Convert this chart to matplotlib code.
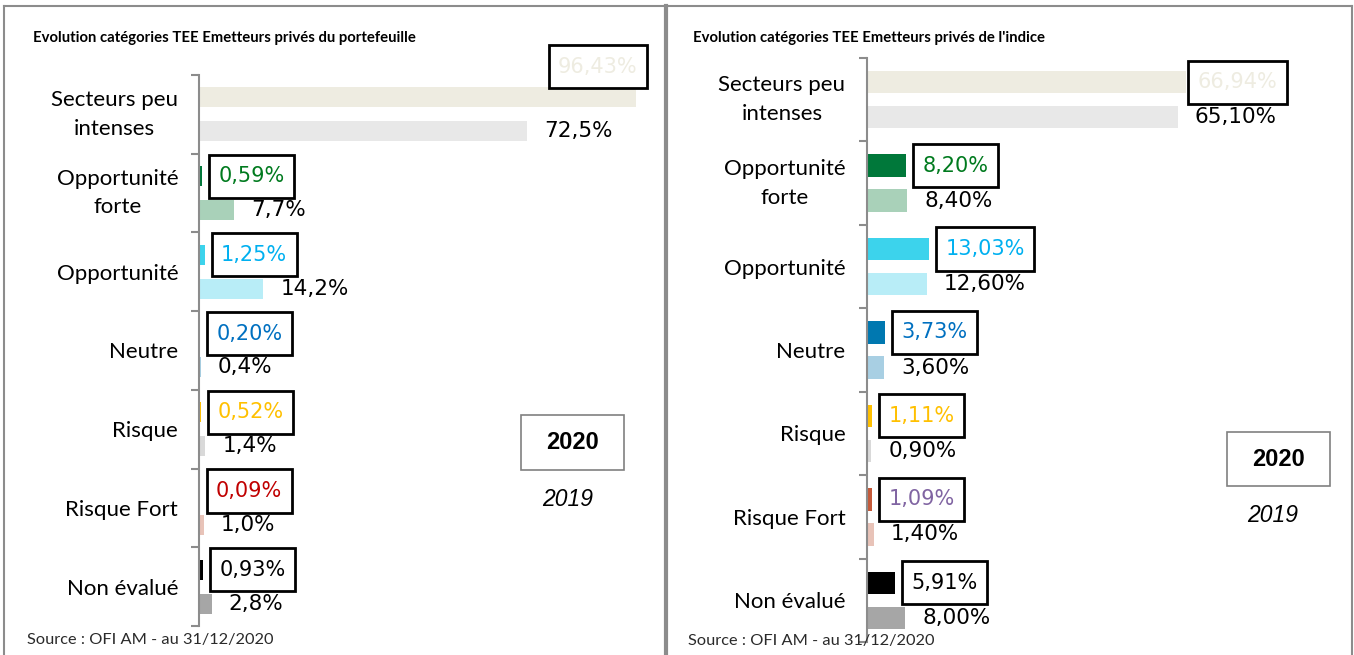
import matplotlib
matplotlib.use("Agg")
import matplotlib.pyplot as plt
from matplotlib.lines import Line2D
from matplotlib.patches import Rectangle
from matplotlib.path import Path
import numpy as np

# ---------------- data ----------------
categories = ["Secteurs peu\nintenses", "Opportunité\nforte", "Opportunité",
              "Neutre", "Risque", "Risque Fort", "Non évalué"]

ptf_2020 = [96.43, 0.59, 1.25, 0.20, 0.52, 0.09, 0.93]
ptf_2019 = [72.5, 7.7, 14.2, 0.4, 1.4, 1.0, 2.8]
idx_2020 = [66.94, 8.20, 13.03, 3.73, 1.11, 1.09, 5.91]
idx_2019 = [65.10, 8.40, 12.60, 3.60, 0.90, 1.40, 8.00]

title_ptf = "Evolution catégories TEE Emetteurs privés du portefeuille"
title_idx = "Evolution catégories TEE Emetteurs privés de l'indice"
source_txt = "Source : OFI AM - au 31/12/2020"
legend_years = ["2020", "2019"]

# ---------------- styles ----------------
col_2020 = ["#EEECE1", "#00783A", "#3CD3EC", "#0078B0", "#FFC000", "#C55A3A", "#000000"]
col_2019 = ["#E8E8E8", "#A9D1B9", "#B8EDF7", "#A8CFE3", "#D9D9D9", "#E8C3B8", "#A6A6A6"]
lab_col_ptf = ["#EEECE1", "#007A1E", "#00B0F0", "#0070C0", "#FFC000", "#C00000", "#000000"]
lab_col_idx = ["#EEECE1", "#007A1E", "#00B0F0", "#0070C0", "#FFC000", "#8064A2", "#000000"]

W, H = 1354, 655
fig = plt.figure(figsize=(W / 100, H / 100), dpi=100)
fig.patch.set_facecolor("white")

CAT_FONT = "Lato"
NUM_FONT = "DejaVu Sans"


def label_box(x0, y0, width, height, mutation_size):
    """Rectangle with horizontal pad 0.45 em and fixed height of ~2.07 em."""
    px = 0.45 * mutation_size
    hh = 1.035 * mutation_size
    cy = y0 + height / 2
    xa, xb = x0 - px, x0 + width + px
    ya, yb = cy - hh, cy + hh
    return Path([(xa, ya), (xb, ya), (xb, yb), (xa, yb), (xa, ya)], closed=True)


def px_axes(x0, y_top, w, y_bot):
    return fig.add_axes([x0 / W, 1 - y_bot / H, w / W, (y_bot - y_top) / H])


def fmt(v, dec):
    return f"{v:.{dec}f}".replace(".", ",") + "%"


def draw_panel(ax, v20, v19, lab_cols, dec20, dec19, off_bar, h_bar, pad, special):
    n = len(categories)
    y = np.arange(n)
    ax.barh(y - off_bar, v20, height=h_bar, color=col_2020)
    ax.barh(y + off_bar, v19, height=h_bar, color=col_2019)
    ax.set_xlim(0, 100)
    ax.set_ylim(n - 0.5, -0.5)
    for s in ["top", "right", "bottom"]:
        ax.spines[s].set_visible(False)
    ax.spines["left"].set_color("#8C8C8C")
    ax.spines["left"].set_linewidth(1.5)
    ax.set_xticks([])
    ax.set_yticks(y)
    ax.set_yticklabels(categories, fontfamily=CAT_FONT, fontsize=16, color="black")
    for t in ax.get_yticklabels():
        t.set_multialignment("center")
        t.set_linespacing(1.55)
        if "\n" in t.get_text():
            t.set_verticalalignment("center")
    ax.set_yticks(np.arange(n + 1) - 0.5, minor=True)
    ax.tick_params(axis="y", which="major", length=0, pad=pad)
    ax.tick_params(axis="y", which="minor", length=6, width=1.5, color="#8C8C8C")
    ax.patch.set_alpha(0)

    for i in range(n):
        dx, dy, ha = special.get(i, (16.5, 0, "left"))
        t = ax.annotate(fmt(v20[i], dec20), xy=(v20[i], i - off_bar),
                        xytext=(dx, dy), textcoords="offset pixels",
                        ha=ha, va="center", fontsize=15, fontfamily=NUM_FONT,
                        color=lab_cols[i], annotation_clip=False,
                        bbox=dict(boxstyle="square", fc="white", ec="black", lw=2))
        t.get_bbox_patch().set_boxstyle(label_box)
        ax.annotate(fmt(v19[i], dec19), xy=(v19[i], i + off_bar),
                    xytext=(17, 0), textcoords="offset pixels",
                    ha="left", va="center", fontsize=15.5, fontfamily=NUM_FONT,
                    color="black", annotation_clip=False)


# left panel
axL = px_axes(199, 75, 453, 626)
draw_panel(axL, ptf_2020, ptf_2019, lab_col_ptf, 2, 1, 0.215, 0.255, 15,
           {0: (-38, 30.5, "center")})
# right panel
axR = px_axes(867, 58, 477, 642)
draw_panel(axR, idx_2020, idx_2019, lab_col_idx, 2, 2, 0.21, 0.27, 15.5,
           {0: (11.5, 0, "left")})

# titles
fig.text(33 / W, 1 - 38 / H, title_ptf, fontfamily="Lato", fontweight="bold",
         fontsize=10.7, va="center", ha="left")
fig.text(693 / W, 1 - 38 / H, title_idx, fontfamily="Lato", fontweight="bold",
         fontsize=10.7, va="center", ha="left")

# sources
fig.text(27 / W, 1 - 640 / H, source_txt, fontfamily="Lato", fontsize=11.8,
         va="center", ha="left", color="#2A2A2A")
fig.text(688 / W, 1 - 641 / H, source_txt, fontfamily="Lato", fontsize=11.8,
         va="center", ha="left", color="#2A2A2A")

# legend boxes
for (bx, by, bw, bh), (cx, cy) in [((521, 415, 103, 55), (568, 499)),
                                   ((1227, 432, 103, 54), (1273, 516))]:
    fig.add_artist(Rectangle((bx / W, 1 - (by + bh) / H), bw / W, bh / H,
                             transform=fig.transFigure, fc="white", ec="#808080", lw=1.2))
    fig.text((bx + bw / 2) / W, 1 - (by + bh / 2) / H, legend_years[0],
             fontfamily="Liberation Sans", fontweight="bold", fontsize=17,
             ha="center", va="center")
    fig.text(cx / W, 1 - cy / H, legend_years[1], fontfamily="Liberation Sans",
             fontstyle="italic", fontsize=16.5, ha="center", va="center")

# frame lines
def fline(x0, y0, x1, y1, lw, c="#8C8C8C"):
    fig.add_artist(Line2D([x0 / W, x1 / W], [1 - y0 / H, 1 - y1 / H],
                          transform=fig.transFigure, color=c, lw=lw))

fline(4, 6, 1352, 6, 1.5)
fline(4, 6, 4, 655, 1.5)
fline(666, 6, 666, 655, 3)
fline(1352, 6, 1352, 655, 1.5)

fig.savefig("out.png", dpi=100)
